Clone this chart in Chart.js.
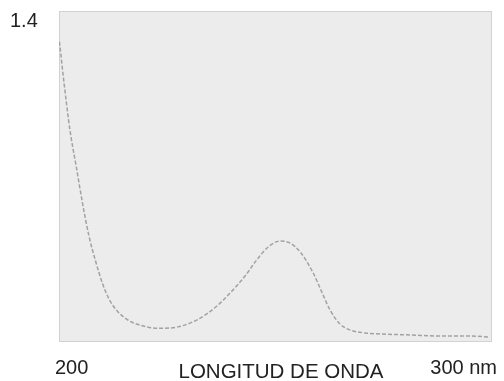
<!DOCTYPE html>
<html>
<head>
<meta charset="utf-8">
<script src="https://cdn.jsdelivr.net/npm/chart.js@4"></script>
<style>
  html, body { margin: 0; padding: 0; background: #fff; }
  canvas { display: block; }
</style>
</head>
<body>
<canvas id="spectrum" width="504" height="381"></canvas>
<script>
// wavelength (nm) and absorbance
const wavelength = [200.1, 201.2, 202.5, 204.0, 205.5, 206.9, 208.4, 210.0, 211.6, 213.5, 216.0, 219.0,
  223.0, 227.5, 232.0, 236.0, 239.5, 243.0, 245.7, 248.3, 251.0, 253.3, 255.7, 258.7, 260.7, 262.6,
  264.9, 267.2, 270.7, 274.1, 281.1, 288.0, 294.9, 299.5];
const absorbance = [1.270, 1.090, 0.900, 0.740, 0.580, 0.450, 0.345, 0.250, 0.180, 0.130, 0.092, 0.070,
  0.058, 0.064, 0.095, 0.145, 0.207, 0.280, 0.348, 0.402, 0.427, 0.419, 0.381, 0.292, 0.211, 0.135,
  0.076, 0.051, 0.038, 0.034, 0.030, 0.025, 0.025, 0.021];

const xRange = [200, 300];
const yRange = [0, 1.4];
const yTopLabel = '1.4';
const xLeftLabel = '200';
const xRightLabel = '300 nm';
const xTitle = 'LONGITUD DE ONDA';

const points = wavelength.map((w, i) => ({ x: w, y: absorbance[i] }));

const paperBg = {
  id: 'paperBg',
  beforeDatasetsDraw(chart) {
    const { ctx, chartArea: a } = chart;
    ctx.save();
    ctx.fillStyle = '#ececec';
    ctx.fillRect(a.left, a.top, a.right - a.left, a.bottom - a.top);
    ctx.strokeStyle = '#d2d2d2';
    ctx.lineWidth = 1;
    ctx.strokeRect(a.left + 0.5, a.top + 0.5, a.right - a.left - 1, a.bottom - a.top - 1);
    ctx.restore();
  },
  afterDraw(chart) {
    const { ctx } = chart;
    ctx.save();
    ctx.fillStyle = '#222';
    ctx.font = '20px "Liberation Sans", Arial, sans-serif';
    ctx.textBaseline = 'alphabetic';
    ctx.textAlign = 'left';
    ctx.fillText(yTopLabel, 10, 27);
    ctx.fillText(xLeftLabel, 55, 374);
    ctx.textAlign = 'right';
    ctx.fillText(xRightLabel, 497, 374);
    ctx.textAlign = 'center';
    ctx.font = '20.5px "Liberation Sans", Arial, sans-serif';
    ctx.fillText(xTitle, 281, 378);
    ctx.restore();
  }
};

new Chart(document.getElementById('spectrum'), {
  type: 'scatter',
  data: {
    datasets: [{
      data: points,
      showLine: true,
      borderColor: '#a2a2a2',
      borderWidth: 1.5,
      borderDash: [4, 2],
      pointRadius: 0,
      cubicInterpolationMode: 'monotone',
      fill: false
    }]
  },
  options: {
    responsive: false,
    animation: false,
    layout: { padding: { left: 59, top: 11, right: 12, bottom: 39 } },
    plugins: { legend: { display: false }, tooltip: { enabled: false } },
    scales: {
      x: { type: 'linear', min: xRange[0], max: xRange[1], display: false },
      y: { min: yRange[0], max: yRange[1], display: false }
    }
  },
  plugins: [paperBg]
});
</script>
</body>
</html>
